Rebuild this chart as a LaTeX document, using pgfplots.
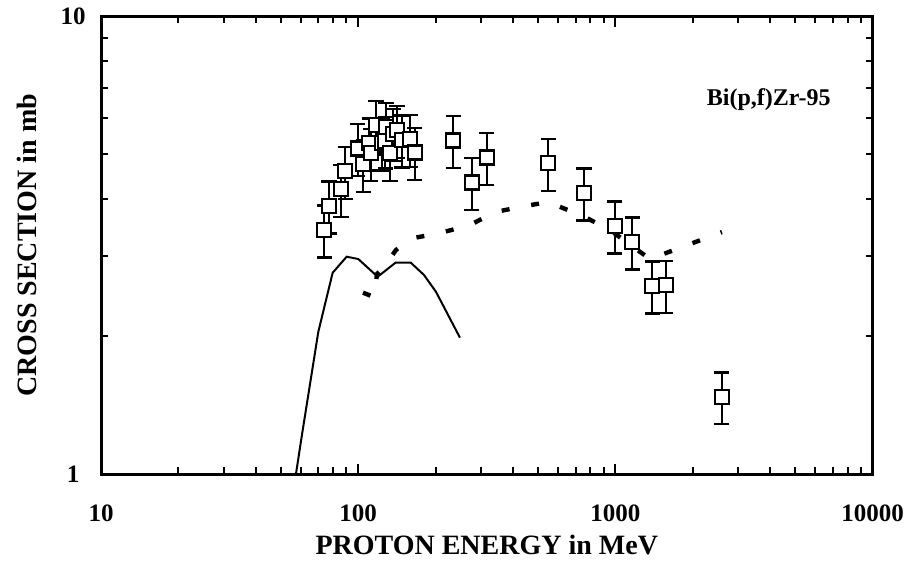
\documentclass[border=0pt]{standalone}
\usepackage{fontspec}
\setmainfont{Liberation Serif}
\usepackage{pgfplots}
\pgfplotsset{compat=1.18}

\begin{document}
\begin{tikzpicture}
% page size: 454pt x 285pt, axis box at (0,0)
\useasboundingbox (-50.5pt,-48pt) rectangle (403.5pt,237pt);
\begin{loglogaxis}[
    scale only axis,
    width=385.75pt, height=228.65pt,
    xmin=10, xmax=10000, ymin=1, ymax=10,
    axis line style={line width=1.5pt},
    tick style={line width=1pt, black},
    tick align=inside,
    major tick length=5pt, minor tick length=3.3pt,
    xtick={10,100,1000,10000}, xticklabels={10,100,1000,10000},
    ytick={1,10}, yticklabels={1,10},
    /pgf/number format/assume math mode=true,
    ticklabel style={font=\fontsize{12.5}{15}\selectfont\bfseries},
    xticklabel style={anchor=center, yshift=-19.5pt},
    yticklabel style={anchor=center, xshift=-14pt},
    xlabel={PROTON ENERGY in MeV},
    ylabel={CROSS SECTION in mb},
    label style={font=\fontsize{14}{16}\selectfont\bfseries},
    xlabel style={at={(axis description cs:0.5,-0.1553)}, anchor=center},
    ylabel style={at={(axis description cs:-0.0959,0.5)}, anchor=center},
    clip=true,
]
% calculation, solid
\addplot[black, line width=1pt] coordinates {
    (57.3,1.0) (60.3,1.207) (70.0,2.047) (79.6,2.755) (90.2,2.987)
    (100.1,2.952) (119.1,2.70) (139.9,2.90) (160,2.90) (180.3,2.724)
    (200.7,2.503) (248.7,1.987)
};
% calculation, dashed
\addplot[black, line width=2.2pt, dash pattern=on 4pt off 11pt] coordinates {
    (104.4,2.492) (115.2,2.438) (118.4,2.737) (126,2.836) (140.3,3.09)
    (163.3,3.28) (208,3.365) (272.1,3.503) (340.2,3.74) (445.2,3.855)
    (547,3.934) (748,3.666) (952.6,3.417) (1363,2.952) (1915,3.17)
    (2597,3.382)
};
% measured
\addplot[black, only marks, mark=square*, mark size=3.5pt,
    mark options={line width=1.1pt, fill=white},
    error bars/.cd, y dir=both, y explicit relative,
    error bar style={line width=1.1pt},
    error mark options={rotate=90, mark size=3.8pt, line width=1.1pt}]
coordinates {
    (73.8,3.42) +- (0,0.13)
    (77.0,3.86) +- (0,0.13)
    (85.7,4.20) +- (0,0.13)
    (89.1,4.60) +- (0,0.13)
    (99.5,5.15) +- (0,0.13)
    (104.7,4.76) +- (0,0.13)
    (110.5,5.30) +- (0,0.13)
    (111.9,5.03) +- (0,0.13)
    (117.3,5.80) +- (0,0.13)
    (123.7,5.30) +- (0,0.13)
    (127.5,5.35) +- (0,0.13)
    (128.3,5.74) +- (0,0.13)
    (132.9,5.03) +- (0,0.13)
    (137.0,5.55) +- (0,0.13)
    (141.5,5.65) +- (0,0.13)
    (148,5.38) +- (0,0.13)
    (159,5.40) +- (0,0.13)
    (165.9,5.05) +- (0,0.13)
    (234.3,5.36) +- (0,0.13)
    (276.3,4.34) +- (0,0.13)
    (316,4.92) +- (0,0.13)
    (548,4.78) +- (0,0.13)
    (755,4.12) +- (0,0.13)
    (996,3.49) +- (0,0.13)
    (1163,3.22) +- (0,0.13)
    (1392,2.58) +- (0,0.13)
    (1569,2.59) +- (0,0.13)
    (2591,1.476) +- (0,0.13)
};
\node[font=\fontsize{12}{14}\selectfont\bfseries] at (axis cs:3950,6.6) {Bi(p,f)Zr-95};
\end{loglogaxis}
\end{tikzpicture}
\end{document}
